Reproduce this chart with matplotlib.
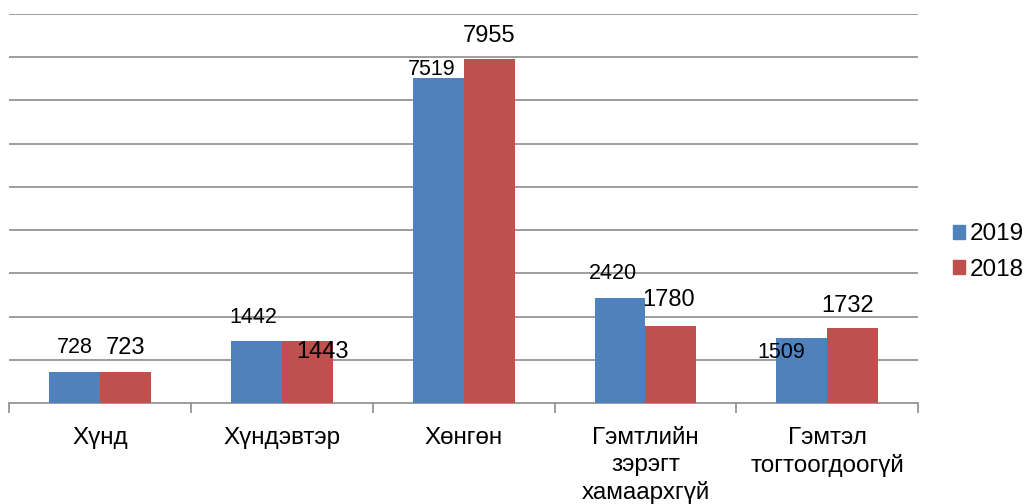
import matplotlib
matplotlib.use("Agg")
import matplotlib.pyplot as plt
from matplotlib.patches import Patch
import numpy as np

plt.rcParams['font.family'] = ['Liberation Sans', 'DejaVu Sans']

categories = ["Хүнд", "Хүндэвтэр", "Хөнгөн", "Гэмтлийн\nзэрэгт\nхамаархгүй", "Гэмтэл\nтогтоогдоогүй"]
series_names = ["2019", "2018"]
values_2019 = [728, 1442, 7519, 2420, 1509]
values_2018 = [723, 1443, 7955, 1780, 1732]

colors = ["#4F81BD", "#C0504D"]
# label offsets (pixels) from bar top: (dx, dy)
offsets_2019 = [(0, 24), (-3, 23), (-7, 9), (-7, 25), (-20, -15)]
offsets_2018 = [(0, 24), (15, -11), (0, 23), (-2, 26), (-5, 22)]

W, H = 1030, 504
fig = plt.figure(figsize=(W / 100, H / 100), dpi=100)
ax = fig.add_axes([9.3 / W, 1 - 403 / H, (918 - 9.3) / W, (403 - 14) / H])

x = np.arange(len(categories))
bw = 0.28
ax.bar(x - bw / 2, values_2019, bw, color=colors[0], zorder=3)
ax.bar(x + bw / 2, values_2018, bw, color=colors[1], zorder=3)

px2pt = 72 / 100
for xi, v, (dx, dy) in zip(x - bw / 2, values_2019, offsets_2019):
    ax.annotate(str(v), (xi, v), xytext=(dx * px2pt, dy * px2pt), textcoords='offset points',
                ha='center', va='center', fontsize=15.5, color='#000000', zorder=5)
for xi, v, (dx, dy) in zip(x + bw / 2, values_2018, offsets_2018):
    ax.annotate(str(v), (xi, v), xytext=(dx * px2pt, dy * px2pt), textcoords='offset points',
                ha='center', va='center', fontsize=17, color='#000000', zorder=5)

ax.set_xlim(-0.5, len(categories) - 0.5)
ax.set_ylim(0, 9000)
ax.set_yticks(np.arange(1000, 9001, 1000))
ax.yaxis.grid(True, color='#8C8C8C', linewidth=1.2)
ax.tick_params(axis='y', left=False, labelleft=False)
ax.set_xticks(x)
ax.set_xticklabels(categories, fontsize=17.5, linespacing=1.3, va='top')
ax.tick_params(axis='x', which='major', length=0, pad=17)
ax.set_xticks(np.arange(-0.5, len(categories), 1.0), minor=True)
ax.tick_params(axis='x', which='minor', length=7, color='#8C8C8C', width=1.2, direction='out')
for s in ['left', 'right', 'top']:
    ax.spines[s].set_visible(False)
ax.spines['bottom'].set_color('#8C8C8C')
ax.spines['bottom'].set_linewidth(1.2)
ax.set_axisbelow(True)

handles = [Patch(color=colors[0]), Patch(color=colors[1])]
fig.legend(handles, series_names, loc='center left', bbox_to_anchor=(953 / W, 1 - 252 / H),
           frameon=False, fontsize=17.5, handlelength=0.5, handleheight=0.5,
           handletextpad=0.2, labelspacing=0.55, borderaxespad=0, borderpad=0)

fig.savefig("out.png", dpi=100, facecolor='white')
